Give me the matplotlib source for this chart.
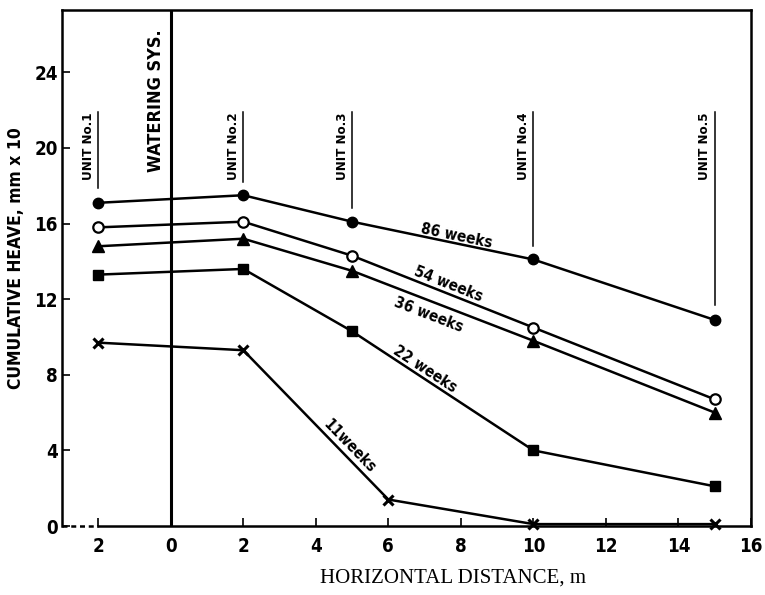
import numpy as np
import matplotlib
matplotlib.use('Agg')
import matplotlib.pyplot as plt

# distances (m), negative side = left of watering system
x_units = [-2, 2, 5, 10, 15]
x_11 = [-2, 2, 6, 10, 15]

heave_86 = [17.1, 17.5, 16.1, 14.1, 10.9]
heave_54 = [15.8, 16.1, 14.3, 10.5, 6.7]
heave_36 = [14.8, 15.2, 13.5, 9.8, 6.0]
heave_22 = [13.3, 13.6, 10.3, 4.0, 2.1]
heave_11 = [9.7, 9.3, 1.4, 0.1, 0.1]

curve_labels = ['86 weeks', '54 weeks', '36 weeks', '22 weeks', '11weeks']
unit_names = ['UNIT No.1', 'UNIT No.2', 'UNIT No.3', 'UNIT No.4', 'UNIT No.5']
unit_top = 21.9
unit_bottom = [17.9, 18.2, 16.8, 14.8, 11.7]

x_ticks = [-2, 0, 2, 4, 6, 8, 10, 12, 14, 16]
y_ticks = [0, 4, 8, 12, 16, 20, 24]

bold = dict(family='DejaVu Sans', fontstretch='condensed', fontweight='bold')

fig = plt.figure(figsize=(7.65, 5.95), dpi=100)
ax = fig.add_axes([62 / 765, 1 - 526 / 595, 689 / 765, 516 / 595])
ax.set_xlim(-3.0, 16.0)
ax.set_ylim(0, 27.3)

lw = 1.8
ax.plot(x_units, heave_86, '-o', color='black', lw=lw, ms=7.5)
ax.plot(x_units, heave_54, '-o', color='black', lw=lw, ms=7.5, mfc='white', mew=1.6)
ax.plot(x_units, heave_36, '-^', color='black', lw=lw, ms=8)
ax.plot(x_units, heave_22, '-s', color='black', lw=lw, ms=7)
ax.plot(x_11, heave_11, '-x', color='black', lw=lw, ms=7.5, mew=2.2, clip_on=False)

# watering system line
ax.axvline(0, color='black', lw=2.2)
ax.annotate('WATERING SYS.', (0, 26.3), xytext=(-4, 0), textcoords='offset points',
            rotation=90, ha='right', va='top', fontsize=13, **bold)

# unit markers
for ux, name, yb in zip(x_units, unit_names, unit_bottom):
    ax.plot([ux, ux], [yb, unit_top], color='black', lw=1.1)
    ax.annotate(name, (ux, unit_top), xytext=(-2.5, 0), textcoords='offset points',
                rotation=90, ha='right', va='top', fontsize=9.5, **bold)

# curve labels along lines
series = [(x_units, heave_86), (x_units, heave_54), (x_units, heave_36),
          (x_units, heave_22), (x_11, heave_11)]
label_x = [7.85, 7.57, 7.24, 6.88, 4.75]
label_off = [7, 9, -14, 8, 9]
for (xs, ys), txt, lx, d in zip(series, curve_labels, label_x, label_off):
    i = np.searchsorted(xs, lx) - 1
    p0 = ax.transData.transform((xs[i], ys[i]))
    p1 = ax.transData.transform((xs[i + 1], ys[i + 1]))
    ang = np.arctan2(p1[1] - p0[1], p1[0] - p0[0])
    ly = np.interp(lx, xs, ys)
    p = ax.transData.transform((lx, ly)) + d * np.array([-np.sin(ang), np.cos(ang)])
    tx, ty = ax.transData.inverted().transform(p)
    ax.text(tx, ty, txt, rotation=np.degrees(ang), rotation_mode='anchor',
            ha='center', va='center', fontsize=11, **bold)

# axes styling
for s in ax.spines.values():
    s.set_linewidth(1.8)
ax.spines['bottom'].set_bounds(-2, 16)
ax.plot([-3.0, -2], [0, 0], color='black', lw=1.8, ls=(0, (2, 1.5)), clip_on=False)

ax.set_xticks(x_ticks)
ax.set_xticklabels([str(abs(t)) for t in x_ticks])
ax.set_yticks(y_ticks)
ax.tick_params(axis='both', direction='in', length=6, width=1.2, labelsize=13.5)
ax.tick_params(axis='x', pad=8)
ax.tick_params(axis='y', pad=3)
for lab in ax.get_xticklabels() + ax.get_yticklabels():
    lab.set_fontweight('bold')
    lab.set_fontstretch('condensed')

ax.set_ylabel('CUMULATIVE HEAVE, mm x 10', fontsize=12.5, **bold)
ax.yaxis.set_label_coords(-0.053, 0.52)
ax.set_xlabel('HORIZONTAL DISTANCE, m', fontsize=15, family='Liberation Serif', va='center')
ax.xaxis.set_label_coords(0.567, -0.10)

fig.savefig('out.png', dpi=100)
